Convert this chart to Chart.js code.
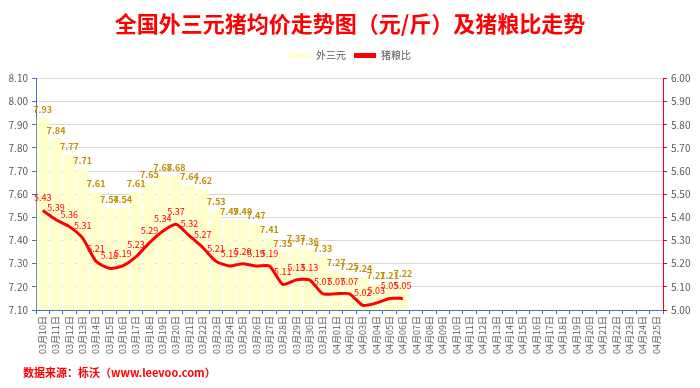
<!DOCTYPE html>
<html>
<head>
<meta charset="utf-8">
<script src="https://cdn.jsdelivr.net/npm/chart.js@4"></script>
<style>
  body { margin:0; background:#fff; }
  #wrap { width:700px; height:388px; position:relative; }
</style>
</head>
<body>
<div id="wrap"><canvas id="myChart" width="700" height="388"></canvas></div>
<script>
// dates 03-10 .. 04-25
const dayLabels = [
  "03月10日","03月11日","03月12日","03月13日","03月14日","03月15日","03月16日","03月17日",
  "03月18日","03月19日","03月20日","03月21日","03月22日","03月23日","03月24日","03月25日",
  "03月26日","03月27日","03月28日","03月29日","03月30日","03月31日",
  "04月01日","04月02日","04月03日","04月04日","04月05日","04月06日","04月07日","04月08日",
  "04月09日","04月10日","04月11日","04月12日","04月13日","04月14日","04月15日","04月16日",
  "04月17日","04月18日","04月19日","04月20日","04月21日","04月22日","04月23日","04月24日","04月25日"
];
// 外三元 price (yuan/jin)
const priceValues = [7.93,7.84,7.77,7.71,7.61,7.54,7.54,7.61,7.65,7.68,7.68,7.64,7.62,7.53,
  7.49,7.49,7.47,7.41,7.35,7.37,7.36,7.33,7.27,7.25,7.24,7.21,7.21,7.22];
// 猪粮比
const ratioValues = [5.43,5.39,5.36,5.31,5.21,5.18,5.19,5.23,5.29,5.34,5.37,5.32,5.27,5.21,
  5.19,5.20,5.19,5.19,5.11,5.13,5.13,5.07,5.07,5.07,5.02,5.03,5.05,5.05];

const leftTicks = { min: 7.10, max: 8.10, step: 0.1 };
const rightTicks = { min: 5.00, max: 6.00, step: 0.1 };

const FONT = "'Noto Sans CJK SC', 'Noto Sans', sans-serif";
Chart.defaults.font.family = FONT;

// draws the value labels above bars / line points
const valueLabels = {
  id: 'valueLabels',
  afterDatasetsDraw(chart) {
    let ctx = chart.ctx;
    ctx.save();
    ctx.textAlign = 'center';
    ctx.textBaseline = 'bottom';
    chart.data.datasets.forEach(function(ds, i) {
      let meta = chart.getDatasetMeta(i);
      if (meta.hidden) return;
      if (ds.type == 'bar') {
        ctx.fillStyle = '#C09000';
        ctx.font = 'bold 9px ' + FONT;
      } else {
        ctx.fillStyle = '#FF0000';
        ctx.font = '9px ' + FONT;
      }
      meta.data.forEach(function(el, j) {
        let v = ds.data[j];
        if (v == null) return;
        let off = ds.type == 'bar' ? 4 : 8;
        ctx.fillText(v.toFixed(2), el.x, el.y - off);
      });
    });
    ctx.restore();
  }
};

const footer = {
  id: 'footer',
  afterDraw(chart) {
    let ctx = chart.ctx;
    ctx.save();
    ctx.fillStyle = '#FF0000';
    ctx.font = 'bold 11px ' + FONT;
    ctx.textBaseline = 'middle';
    ctx.fillText('数据来源：栎沃（www.leevoo.com）', 23, 373);
    ctx.restore();
  }
};

const config = {
  data: {
    labels: dayLabels,
    datasets: [
      {
        type: 'bar',
        label: '外三元',
        data: priceValues,
        backgroundColor: '#FFFFCC',
        borderWidth: 0,
        barPercentage: 0.88,
        categoryPercentage: 1.0,
        yAxisID: 'y',
        order: 2
      },
      {
        type: 'line',
        label: '猪粮比',
        data: ratioValues,
        borderColor: '#FF0000',
        backgroundColor: '#FF0000',
        borderWidth: 3,
        pointRadius: 0,
        tension: 0.2,
        yAxisID: 'y1',
        order: 1
      }
    ]
  },
  options: {
    responsive: false,
    animation: false,
    layout: { padding: { left: 0, right: 0, top: 0, bottom: 28 } },
    plugins: {
      title: {
        display: true,
        text: '全国外三元猪均价走势图（元/斤）及猪粮比走势',
        color: '#FF0000',
        font: { size: 22, weight: 'bold' },
        padding: { top: 10, bottom: 6 }
      },
      // empty subtitle, only used as a gap between legend and plot
      subtitle: {
        display: true,
        text: '',
        weight: 500,
        font: { size: 5 },
        padding: { top: 2, bottom: 0 }
      },
      legend: {
        position: 'top',
        labels: {
          boxWidth: 22,
          boxHeight: 5,
          color: '#595959',
          font: { size: 10 },
          padding: 8,
          generateLabels: function(chart) {
            let items = Chart.defaults.plugins.legend.labels.generateLabels(chart);
            items.forEach(function(it) { it.lineWidth = 0; });
            items.sort(function(a, b) { return a.datasetIndex - b.datasetIndex; });
            return items;
          }
        }
      },
      tooltip: { enabled: false }
    },
    scales: {
      x: {
        offset: true,
        grid: { display: true, drawOnChartArea: false, drawTicks: true, tickLength: 4, tickColor: '#4472C4', offset: true },
        border: { color: '#4472C4' },
        ticks: { color: '#595959', font: { size: 9 }, minRotation: 90, maxRotation: 90, autoSkip: false, padding: 2 },
        afterFit: function(s) { s.height = 50; }
      },
      y: {
        position: 'left',
        min: leftTicks.min,
        max: leftTicks.max,
        ticks: { stepSize: leftTicks.step, color: '#595959', font: { size: 10 }, padding: 4,
          callback: function(v) { return Number(v).toFixed(2); } },
        grid: { color: '#D9D9D9', tickColor: '#4472C4', tickLength: 4 },
        border: { color: '#4472C4' },
        afterFit: function(s) { s.width = 36; }
      },
      y1: {
        position: 'right',
        min: rightTicks.min,
        max: rightTicks.max,
        ticks: { stepSize: rightTicks.step, color: '#595959', font: { size: 10 }, padding: 4,
          callback: function(v) { return Number(v).toFixed(2); } },
        grid: { drawOnChartArea: false, tickColor: '#FF0000', tickLength: 4 },
        border: { color: '#FF0000' },
        afterFit: function(s) { s.width = 37; }
      }
    }
  },
  plugins: [valueLabels, footer]
};

const myChart = new Chart(document.getElementById('myChart'), config);
</script>
</body>
</html>
